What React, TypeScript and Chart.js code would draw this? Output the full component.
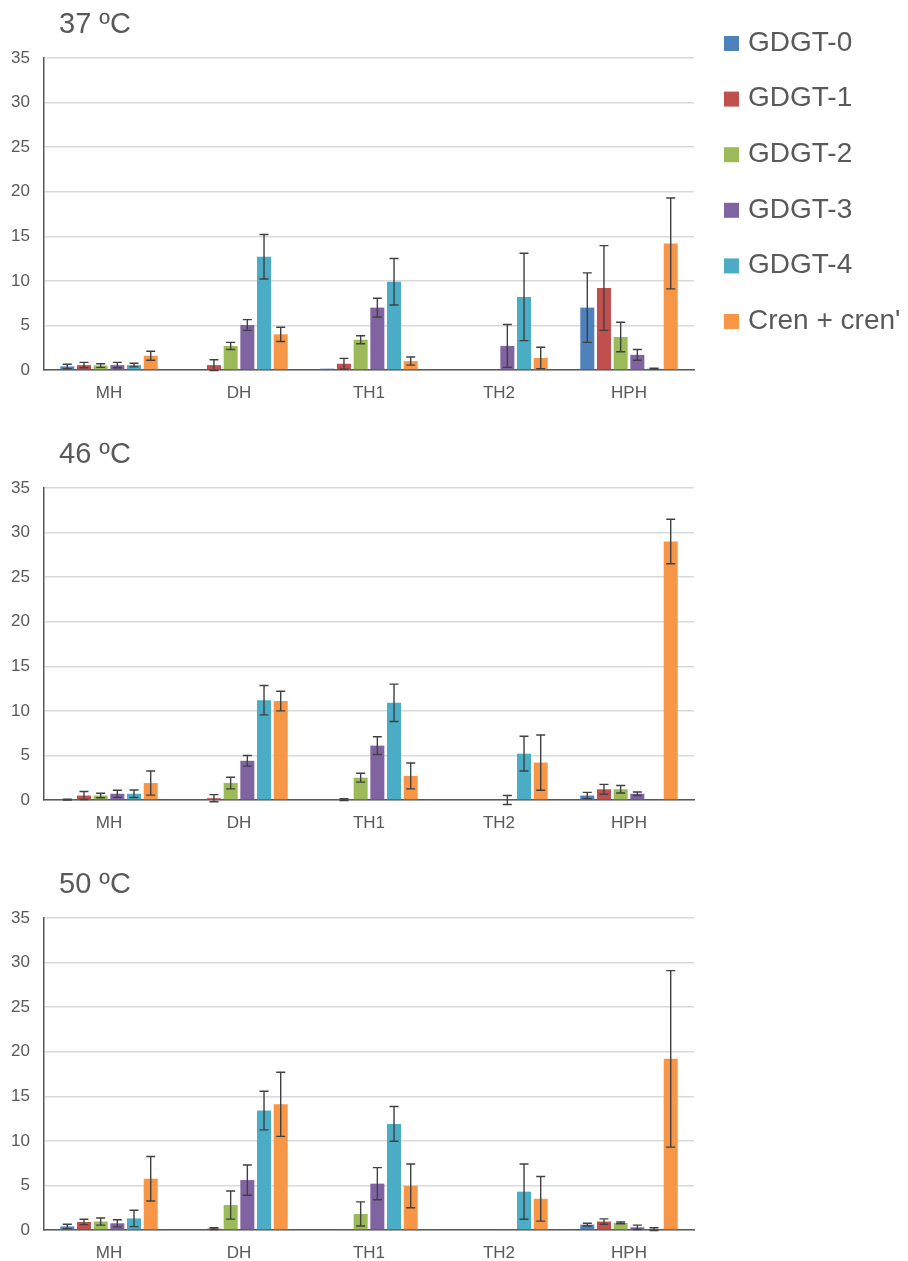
import { useEffect, useRef } from "react";
import { Chart, registerables } from "chart.js";

Chart.register(...registerables);

const CATEGORIES = ["MH", "DH", "TH1", "TH2", "HPH"];
const SERIES = ["GDGT-0", "GDGT-1", "GDGT-2", "GDGT-3", "GDGT-4", "Cren + cren'"];
const COLORS = ["#4F81BD", "#C0504D", "#9BBB59", "#8064A2", "#4BACC6", "#F79646"];
const PANEL_TITLES = ["37 ºC", "46 ºC", "50 ºC"];
const Y_MIN = 0;
const Y_MAX = 35;
const Y_STEP = 5;

// rows = series (GDGT-0 .. Cren), columns = categories (MH, DH, TH1, TH2, HPH)
const MEAN_37 = [
  [0.4, 0, 0.15, 0, 7.0],
  [0.55, 0.55, 0.7, 0, 9.2],
  [0.5, 2.7, 3.4, 0, 3.7],
  [0.55, 5.05, 7.0, 2.7, 1.7],
  [0.55, 12.7, 9.9, 8.2, 0.15],
  [1.6, 4.0, 1.0, 1.35, 14.2],
];
const ERR_37 = [
  [0.25, 0, 0, 0, 3.9],
  [0.3, 0.6, 0.6, 0, 4.75],
  [0.2, 0.4, 0.45, 0, 1.65],
  [0.3, 0.6, 1.05, 2.4, 0.6],
  [0.2, 2.5, 2.6, 4.9, 0.05],
  [0.5, 0.8, 0.45, 1.2, 5.1],
];

const MEAN_46 = [
  [0.05, 0, 0, 0, 0.5],
  [0.5, 0.2, 0.05, 0, 1.2],
  [0.5, 1.9, 2.5, 0, 1.2],
  [0.7, 4.4, 6.1, 0, 0.7],
  [0.7, 11.2, 10.9, 5.2, 0],
  [1.9, 11.1, 2.7, 4.2, 29.0],
];
const ERR_46 = [
  [0.05, 0, 0, 0, 0.35],
  [0.45, 0.4, 0.1, 0, 0.55],
  [0.25, 0.65, 0.5, 0, 0.42],
  [0.4, 0.6, 1.0, 0.5, 0.2],
  [0.42, 1.65, 2.1, 1.95, 0],
  [1.35, 1.1, 1.45, 3.1, 2.5],
];

const MEAN_50 = [
  [0.4, 0, 0, 0, 0.6],
  [0.9, 0.15, 0.1, 0, 0.95],
  [0.95, 2.8, 1.8, 0, 0.8],
  [0.75, 5.6, 5.2, 0.1, 0.3],
  [1.3, 13.4, 11.9, 4.3, 0.1],
  [5.75, 14.1, 4.95, 3.5, 19.2],
];
const ERR_50 = [
  [0.25, 0, 0, 0, 0.15],
  [0.3, 0.1, 0, 0, 0.3],
  [0.4, 1.58, 1.35, 0, 0.1],
  [0.4, 1.7, 1.8, 0, 0.25],
  [0.92, 2.17, 1.95, 3.1, 0.15],
  [2.5, 3.6, 2.45, 2.5, 9.9],
];

const PANEL_MEANS = [MEAN_37, MEAN_46, MEAN_50];
const PANEL_ERRS = [ERR_37, ERR_46, ERR_50];

const FONT = "'Liberation Sans', Arial, sans-serif";
const TEXT = "#595959";
const CANVAS_W = 908;
const CANVAS_H = 430;

function makeDecorPlugin(title: string, means: number[][], errs: number[][], showLegend: boolean) {
  return {
    id: "decor",
    afterDatasetsDraw(chart: any) {
      const ctx = chart.ctx;
      const y = chart.scales.y;
      ctx.save();
      ctx.strokeStyle = "#404040";
      ctx.lineWidth = 1.4;
      means.forEach((row, i) => {
        const meta = chart.getDatasetMeta(i);
        row.forEach((v, j) => {
          const e = errs[i][j];
          if (!e) return;
          const bar = meta.data[j];
          const x = bar.x;
          const yTop = y.getPixelForValue(v + e);
          const yBot = y.getPixelForValue(v - e);
          const cap = 4.5;
          ctx.beginPath();
          ctx.moveTo(x, yTop);
          ctx.lineTo(x, yBot);
          ctx.moveTo(x - cap, yTop);
          ctx.lineTo(x + cap, yTop);
          ctx.moveTo(x - cap, yBot);
          ctx.lineTo(x + cap, yBot);
          ctx.stroke();
        });
      });
      ctx.restore();
    },
    afterDraw(chart: any) {
      const ctx = chart.ctx;
      ctx.save();
      ctx.fillStyle = TEXT;
      ctx.font = `29px ${FONT}`;
      ctx.textBaseline = "middle";
      ctx.textAlign = "left";
      ctx.fillText(title, 59, 25);
      if (showLegend) {
        ctx.font = `28px ${FONT}`;
        SERIES.forEach((label, i) => {
          const cy = 43 + i * 55.6;
          ctx.fillStyle = COLORS[i];
          ctx.fillRect(724, cy - 7, 15, 15);
          ctx.fillStyle = TEXT;
          ctx.fillText(label, 748, cy);
        });
      }
      ctx.restore();
    },
  };
}

function Panel({ index }: { index: number }) {
  const ref = useRef<HTMLCanvasElement | null>(null);
  useEffect(() => {
    if (!ref.current) return;
    const means = PANEL_MEANS[index];
    const errs = PANEL_ERRS[index];
    const chart = new Chart(ref.current, {
      type: "bar",
      data: {
        labels: CATEGORIES,
        datasets: SERIES.map((name, i) => ({
          label: name,
          data: means[i],
          backgroundColor: COLORS[i],
          borderWidth: 0,
          categoryPercentage: 0.77,
          barPercentage: 0.84,
        })),
      },
      options: {
        responsive: false,
        animation: false,
        devicePixelRatio: 1,
        layout: { padding: { top: 58, right: CANVAS_W - 694, left: 0, bottom: 0 } },
        plugins: {
          legend: { display: false },
          tooltip: { enabled: false },
          title: { display: false },
        },
        scales: {
          x: {
            grid: { display: false, drawTicks: false },
            border: { display: true, color: "#595959", width: 1.5 },
            ticks: { color: TEXT, font: { family: FONT, size: 17 }, padding: 13 },
            afterFit: (s: any) => {
              s.height = 60;
            },
          },
          y: {
            min: Y_MIN,
            max: Y_MAX,
            grid: { color: "#d9d9d9", lineWidth: 1.5, drawTicks: false },
            border: { display: true, color: "#595959", width: 1.5 },
            ticks: {
              stepSize: Y_STEP,
              color: TEXT,
              font: { family: FONT, size: 17 },
              padding: 14,
            },
            afterFit: (s: any) => {
              s.width = 44;
            },
          },
        },
      },
      plugins: [makeDecorPlugin(PANEL_TITLES[index], means, errs, index === 0)],
    });
    return () => chart.destroy();
  }, [index]);
  return (
    <canvas
      ref={ref}
      width={CANVAS_W}
      height={CANVAS_H}
      style={{ position: "absolute", left: 0, top: index * 430, width: CANVAS_W, height: CANVAS_H }}
    />
  );
}

export default function App() {
  return (
    <div
      style={{
        position: "absolute",
        left: 0,
        top: 0,
        width: 908,
        height: 1261,
        overflow: "hidden",
        background: "#fff",
      }}
    >
      <Panel index={0} />
      <Panel index={1} />
      <Panel index={2} />
    </div>
  );
}
